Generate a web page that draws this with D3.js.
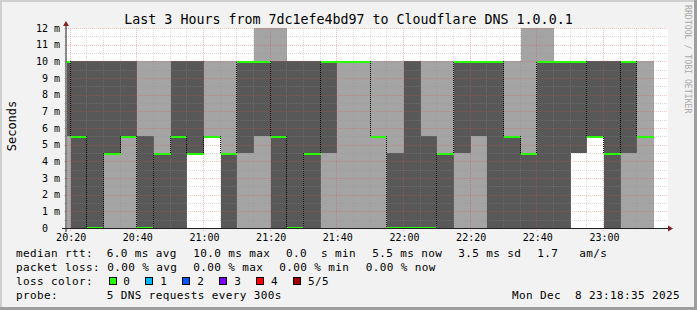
<!DOCTYPE html>
<html><head><meta charset="utf-8">
<script src="https://cdn.jsdelivr.net/npm/d3@7/dist/d3.min.js"></script>
<style>
html,body{margin:0;padding:0;background:#f2f2f2;}
svg{display:block;}
text{font-family:"DejaVu Sans Mono",monospace;white-space:pre;fill:#000;}
</style></head><body>
<svg id="c" width="697" height="310"></svg>
<script>
// ---- data ----
const slotEnd = ["20:20","20:25","20:30","20:35","20:40","20:45","20:50","20:55","21:00","21:05","21:10","21:15",
                 "21:20","21:25","21:30","21:35","21:40","21:45","21:50","21:55","22:00","22:05","22:10","22:15",
                 "22:20","22:25","22:30","22:35","22:40","22:45","22:50","22:55","23:00","23:05","23:10","23:15"];
// five sorted pings per step (ms)
const ping1  = [0,0,0,0,0,0,0,0,4.5,5.5,0,0, 0,0,0,0,0,0,0,0,0,0,0,0, 0,0,0,0,0,0,0,4.5,5.5,0,0,0];
const ping2  = [5.5,0,0,4.5,5.5,0,0,0,4.5,5.5,0,4.5, 5.5,0,0,0,4.5,10,10,5.5,0,0,0,0, 4.5,5.5,0,0,0,0,0,4.5,5.5,0,4.5,5.5];
const median = [10,5.5,0,4.5,5.5,0,4.5,5.5,4.5,5.5,4.5,10, 10,5.5,0,4.5,10,10,10,5.5,0,0,0,4.5, 10,10,10,5.5,4.5,10,10,10,5.5,4.5,10,5.5];
const ping4  = [10,10,10,10,10,5.5,4.5,10,10,5.5,4.5,10, 10,10,10,10,10,10,10,5.5,4.5,10,5.5,4.5, 10,10,10,5.5,4.5,10,10,10,10,10,10,5.5];
const ping5  = [10,10,10,10,10,10,10,10,10,10,10,10, 12,12,10,10,10,10,10,10,10,10,10,10, 10,10,10,10,12,12,10,10,10,10,10,10];
const yTickValues = [0,1,2,3,4,5,6,7,8,9,10,11,12];
const yTickLabels = ["0  ","1 m","2 m","3 m","4 m","5 m","6 m","7 m","8 m","9 m","10 m","11 m","12 m"];
const xTickTimes  = ["20:20","20:40","21:00","21:20","21:40","22:00","22:20","22:40","23:00"];
const xTickLabels = ["20:20","20:40","21:00","21:20","21:40","22:00","22:20","22:40","23:00"];
const lossLabels = ["0","1","2","3","4","5/5"];
const lossColors = ["#26ff00","#00b8ff","#0059ff","#7e00ff","#ff0000","#a00000"];
const titleText = "Last 3 Hours from 7dc1efe4bd97 to Cloudflare DNS 1.0.0.1";
const legendRtt  = ["median rtt:","6.0 ms avg","10.0 ms max","0.0  s min","5.5 ms now","3.5 ms sd","1.7   am/s"];
const legendLoss = ["packet loss:","0.00 % avg","0.00 % max","0.00 % min","0.00 % now"];
const probeText = ["probe:","5 DNS requests every 300s"];
const stampText = "Mon Dec  8 23:18:35 2025";

// ---- setup ----
const parse = d3.timeParse("%Y-%m-%d %H:%M:%S");
const T = s => parse("2025-12-08 " + (s.length === 5 ? s + ":00" : s));
const t0 = T("20:18:54"), t1 = T("23:18:54");
const L = 67, R = 667, TOP = 28, BOT = 228;
const x = d3.scaleTime().domain([t0, t1]).range([L, R]);
const y = d3.scaleLinear().domain([0, 12]).range([BOT, TOP]);

const svg = d3.select("#c");
svg.append("rect").attr("width",697).attr("height",310).attr("fill","#f2f2f2");
svg.append("rect").attr("x",0).attr("y",0).attr("width",697).attr("height",2).attr("fill","#cfcfcf");
svg.append("rect").attr("x",0).attr("y",0).attr("width",2).attr("height",310).attr("fill","#cfcfcf");
svg.append("rect").attr("x",0).attr("y",307).attr("width",697).attr("height",3).attr("fill","#9e9e9e");
svg.append("rect").attr("x",694).attr("y",0).attr("width",3).attr("height",310).attr("fill","#9e9e9e");

// canvas
svg.append("rect").attr("x",L).attr("y",TOP).attr("width",R-L+1).attr("height",BOT-TOP).attr("fill","#fff");

const cols = slotEnd.map((s,i) => {
  const e = T(s);
  const b = d3.timeMinute.offset(e, -5);
  return {i, x0: Math.max(L, Math.round(x(b))), x1: Math.round(x(e)),
          p1: ping1[i], p2: ping2[i], p3: median[i], p4: ping4[i], p5: ping5[i]};
});

const g = svg.append("g").attr("shape-rendering","crispEdges");
// outer smoke (light)
g.selectAll("rect.o").data(cols).join("rect").attr("class","o")
  .attr("x", d=>d.x0).attr("width", d=>d.x1-d.x0)
  .attr("y", d=>Math.round(y(d.p5))).attr("height", d=>Math.round(y(d.p1))-Math.round(y(d.p5)))
  .attr("fill","#a4a4a4");
// inner smoke (dark)
g.selectAll("rect.n").data(cols).join("rect").attr("class","n")
  .attr("x", d=>d.x0).attr("width", d=>d.x1-d.x0)
  .attr("y", d=>Math.round(y(d.p4))).attr("height", d=>Math.round(y(d.p2))-Math.round(y(d.p4)))
  .attr("fill","#585858");

// grid
const grid = svg.append("g").attr("shape-rendering","crispEdges").attr("stroke-dasharray","1,1");
const minorY = d3.range(0, 12.01, 0.5).filter(v => v % 1 !== 0);
grid.selectAll("line.hm").data(minorY).join("line")
  .attr("x1",L-3).attr("x2",R+1).attr("y1",d=>Math.round(y(d))+0.5).attr("y2",d=>Math.round(y(d))+0.5)
  .attr("stroke","rgba(143,143,143,0.32)");
grid.selectAll("line.hM").data(yTickValues).join("line")
  .attr("x1",L-3).attr("x2",R+1).attr("y1",d=>Math.round(y(d))+0.5).attr("y2",d=>Math.round(y(d))+0.5)
  .attr("stroke","rgba(222,79,79,0.33)");
const fiveMin = d3.timeMinute.every(5).range(t0, t1);
const majorSet = new Set(xTickTimes.map(s => +T(s)));
grid.selectAll("line.vm").data(fiveMin.filter(t => !majorSet.has(+t))).join("line")
  .attr("x1",d=>Math.round(x(d))-0.5).attr("x2",d=>Math.round(x(d))-0.5).attr("y1",TOP).attr("y2",BOT+2)
  .attr("stroke","rgba(143,143,143,0.32)");
grid.selectAll("line.vM").data(xTickTimes.map(T)).join("line")
  .attr("x1",d=>Math.round(x(d))-0.5).attr("x2",d=>Math.round(x(d))-0.5).attr("y1",TOP).attr("y2",BOT+4)
  .attr("stroke","rgba(222,79,79,0.38)");

// median: green bands + black dotted connectors
const m = svg.append("g").attr("shape-rendering","crispEdges");
m.selectAll("rect").data(cols).join("rect")
  .attr("x", d=>d.x0).attr("width", d=>d.x1-d.x0)
  .attr("y", d=>Math.min(227, Math.round(y(d.p3)-0.5))).attr("height",2)
  .attr("fill", lossColors[0]);
const conn = cols.slice(1).filter(d => d.p3 !== median[d.i-1]);
m.selectAll("line").data(conn).join("line")
  .attr("x1", d=>d.x0-0.5).attr("x2", d=>d.x0-0.5)
  .attr("y1", d=>Math.round(y(median[d.i-1]))).attr("y2", d=>Math.round(y(d.p3)))
  .attr("stroke","#000").attr("stroke-dasharray","1,1");

// axes
svg.append("line").attr("x1",L-5).attr("x2",R+2).attr("y1",BOT+0.5).attr("y2",BOT+0.5)
  .attr("stroke","#1f1f1f").attr("shape-rendering","crispEdges");
svg.append("line").attr("x1",66).attr("x2",66).attr("y1",BOT+4).attr("y2",TOP-4)
  .attr("stroke","#1f1f1f");
svg.append("path").attr("d",`M${R+6},${BOT+0.5} L${R+1},${BOT-2.5} L${R+1},${BOT+3.5} Z`).attr("fill","#801f1f");
svg.append("path").attr("d",`M66,${TOP-7} L63,${TOP-2} L69,${TOP-2} Z`).attr("fill","#801f1f");

const xa = svg.append("g").attr("transform",`translate(0,${BOT})`)
  .call(d3.axisBottom(x).tickValues(xTickTimes.map(T)).tickFormat((d,i)=>xTickLabels[i]).tickSize(0).tickPadding(5.9));
xa.select(".domain").remove();
xa.selectAll("text").attr("font-size","10px").attr("font-family","DejaVu Sans Mono").attr("fill","#000");

const ya = svg.append("g").attr("transform",`translate(${L},0)`)
  .call(d3.axisLeft(y).tickValues(yTickValues).tickFormat((d,i)=>yTickLabels[i]).tickSize(0).tickPadding(7));
ya.select(".domain").remove();
ya.selectAll("text").attr("font-size","10px").attr("font-family","DejaVu Sans Mono").attr("fill","#000");

// titles
svg.append("text").attr("x",348.5).attr("y",24).attr("text-anchor","middle").attr("font-size","13.3px").text(titleText);
svg.append("text").attr("transform","translate(15.5,126) rotate(-90)").attr("text-anchor","middle")
  .attr("font-size","12px").text("Seconds");
svg.append("text").attr("transform","translate(684.5,5) rotate(90)").attr("font-size","8.2px")
  .style("fill","#a9a9a9").text("RRDTOOL / TOBI OETIKER");

// legend
const LF = "11px", LS = "0.38px";
const leg = (txt, xx, yy) => svg.append("text").attr("x",xx).attr("y",yy).attr("font-size",LF)
  .attr("letter-spacing",LS).text(txt);
const rttX = [16,106.7,193.3,286,372.3,458.3,537.3];
legendRtt.forEach((t,i)=>leg(t, rttX[i], 257));
const lossX = [16,107.3,193.3,279.3,365.7];
legendLoss.forEach((t,i)=>leg(t, lossX[i], 271));
leg("loss color:", 16, 285);
lossLabels.forEach((t,i)=>{
  const bx = 108.5 + i*36.95;
  svg.append("rect").attr("x",Math.round(bx)+0.5).attr("y",277.5).attr("width",7).attr("height",7)
    .attr("fill",lossColors[i]).attr("stroke","#000").attr("stroke-width",1);
  leg(t, bx+14.8, 285);
});
leg(probeText[0], 16, 298.5);
leg(probeText[1], 106.7, 298.5);
svg.append("text").attr("x",680).attr("y",298.5).attr("text-anchor","end").attr("font-size",LF)
  .attr("letter-spacing",LS).text(stampText);
</script>
</body></html>
